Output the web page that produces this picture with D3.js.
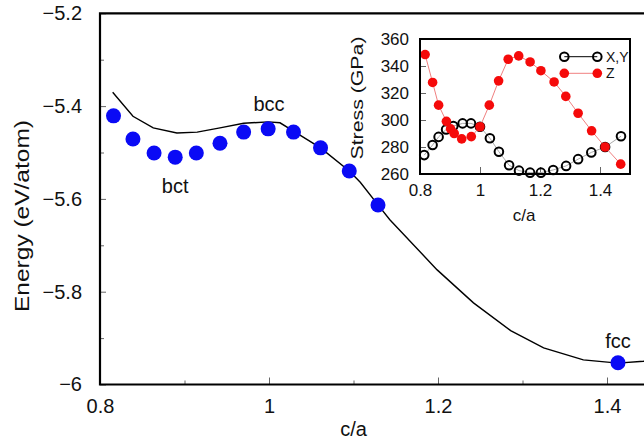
<!DOCTYPE html>
<html>
<head>
<meta charset="utf-8">
<script src="https://cdn.jsdelivr.net/npm/d3@7"></script>
<style>
  body { margin: 0; background: #fff; }
  svg { display: block; font-family: "Liberation Sans", Arial, sans-serif; }
</style>
</head>
<body>
<div id="chart"></div>
<script>
// main panel: energy vs c/a
var pointCa = [0.816, 0.839, 0.864, 0.889, 0.914, 0.942, 0.970, 0.999, 1.029, 1.061, 1.095, 1.129, 1.413];
var pointE = [-5.421, -5.471, -5.501, -5.510, -5.501, -5.480, -5.456, -5.449, -5.456, -5.490, -5.540, -5.613, -5.953];
var curveCa = [0.815, 0.839, 0.863, 0.891, 0.915, 0.942, 0.970, 0.999, 1.013, 1.029, 1.061, 1.095, 1.108, 1.129, 1.143, 1.199, 1.242, 1.286, 1.325, 1.372, 1.413, 1.443, 1.46];
var curveE = [-5.370, -5.422, -5.447, -5.458, -5.456, -5.447, -5.437, -5.434, -5.436, -5.454, -5.490, -5.540, -5.564, -5.613, -5.645, -5.753, -5.824, -5.884, -5.921, -5.947, -5.954, -5.950, -5.946];
var phaseNames = ["bct", "bcc", "fcc"];
var phaseCa = [0.889, 1.0, 1.413];
var phaseE = [-5.5, -5.434, -5.953];
var mainXTicks = [0.8, 1, 1.2, 1.4];
var mainYTicks = [-5.2, -5.4, -5.6, -5.8, -6];

// inset: stress vs c/a
var xyCa = [0.814, 0.842, 0.862, 0.887, 0.911, 0.942, 0.970, 1.000, 1.033, 1.063, 1.097, 1.130, 1.167, 1.203, 1.244, 1.287, 1.327, 1.371, 1.417, 1.470];
var xyStress = [274, 281.5, 287.5, 293, 295.5, 297.5, 297.5, 295, 286.5, 276.5, 266.5, 262.5, 261, 261, 263, 266, 271, 276, 280, 288];
var zCa = [0.817, 0.842, 0.862, 0.888, 0.902, 0.914, 0.939, 0.971, 1.000, 1.031, 1.062, 1.094, 1.129, 1.167, 1.203, 1.247, 1.286, 1.327, 1.372, 1.417, 1.469];
var zStress = [348.5, 327.8, 311, 299, 293.5, 290, 286, 287.7, 295, 311, 329, 345, 347.5, 343, 336.5, 328.2, 317.5, 305, 292, 280, 267.3];
var insetXTicks = [0.8, 1, 1.2, 1.4];
var insetYTicks = [260, 280, 300, 320, 340, 360];
var legendNames = ["X,Y", "Z"];

var width = 644, height = 443;
var font = "Liberation Sans, Arial, sans-serif";

var svg = d3.select("#chart").append("svg")
    .attr("width", width)
    .attr("height", height);

var x = d3.scaleLinear().domain([0.8, 1.5]).range([100, 691.5]);
var y = d3.scaleLinear().domain([-6, -5.2]).range([384.5, 13.3]);

// ticks (inward)
var minorX = svg.append("g")
    .attr("transform", "translate(0," + y(-6) + ")")
    .call(d3.axisBottom(x).tickValues([0.9, 1.1, 1.3]).tickSize(-4).tickFormat(""));
var minorY = svg.append("g")
    .attr("transform", "translate(" + x(0.8) + ",0)")
    .call(d3.axisLeft(y).tickValues([-5.3, -5.5, -5.7, -5.9]).tickSize(-4).tickFormat(""));

var xAxis = svg.append("g")
    .attr("transform", "translate(0," + y(-6) + ")")
    .call(d3.axisBottom(x).tickValues(mainXTicks).tickSize(-7).tickPadding(14).tickFormat(d3.format("")));
var yAxis = svg.append("g")
    .attr("transform", "translate(" + x(0.8) + ",0)")
    .call(d3.axisLeft(y).tickValues(mainYTicks).tickSize(-6).tickPadding(18).tickFormat(d3.format("")));

[minorX, minorY, xAxis, yAxis].forEach(function (g) {
    g.select(".domain").remove();
    g.selectAll(".tick line").attr("stroke", "#666").attr("stroke-width", 1);
    g.selectAll(".tick text")
        .attr("fill", "#111")
        .attr("font-family", font)
        .attr("font-size", 20);
});

// frame
svg.append("path")
    .attr("d", "M" + x(1.5) + "," + y(-5.2) + "H" + x(0.8) + "V" + y(-6) + "H" + x(1.5))
    .attr("fill", "none")
    .attr("stroke", "#000")
    .attr("stroke-width", 2.2);

// curve
var curveData = curveCa.map(function (d, i) { return [d, curveE[i]]; });
svg.append("path")
    .datum(curveData)
    .attr("d", d3.line().x(function (d) { return x(d[0]); }).y(function (d) { return y(d[1]); }))
    .attr("fill", "none")
    .attr("stroke", "#000")
    .attr("stroke-width", 1.4);

// points
svg.selectAll(".pt")
    .data(pointCa)
    .enter()
    .append("circle")
    .attr("class", "pt")
    .attr("cx", function (d) { return x(d); })
    .attr("cy", function (d, i) { return y(pointE[i]); })
    .attr("r", 7.5)
    .attr("fill", "#0a0af5");

// phase labels
var labelDy = [40.5, -11, -15];
svg.selectAll(".phase")
    .data(phaseNames)
    .enter()
    .append("text")
    .attr("x", function (d, i) { return x(phaseCa[i]); })
    .attr("y", function (d, i) { return y(phaseE[i]) + labelDy[i]; })
    .attr("text-anchor", "middle")
    .attr("font-family", font)
    .attr("font-size", 20)
    .attr("fill", "#111")
    .text(function (d) { return d; });

// axis titles
svg.append("text")
    .attr("x", x(1.1))
    .attr("y", 436)
    .attr("text-anchor", "middle")
    .attr("font-family", font)
    .attr("font-size", 20)
    .attr("fill", "#111")
    .text("c/a");

svg.append("text")
    .attr("transform", "translate(29,216) rotate(-90)")
    .attr("text-anchor", "middle")
    .attr("font-family", font)
    .attr("font-size", 20)
    .attr("textLength", 192)
    .attr("lengthAdjust", "spacingAndGlyphs")
    .attr("fill", "#111")
    .text("Energy (eV/atom)");

// ---------- inset ----------
var ix = d3.scaleLinear().domain([0.8, 1.5]).range([420, 630]);
var iy = d3.scaleLinear().domain([260, 360]).range([174, 39]);

var inset = svg.append("g");

inset.append("rect")
    .attr("x", ix(0.8))
    .attr("y", iy(360))
    .attr("width", ix(1.5) - ix(0.8))
    .attr("height", iy(260) - iy(360))
    .attr("fill", "#fff");

var ixAxis = inset.append("g")
    .attr("transform", "translate(0," + iy(260) + ")")
    .call(d3.axisBottom(ix).tickValues(insetXTicks).tickSize(-7).tickPadding(10).tickFormat(d3.format("")));
var iyAxis = inset.append("g")
    .attr("transform", "translate(" + ix(0.8) + ",0)")
    .call(d3.axisLeft(iy).tickValues(insetYTicks).tickSize(-6).tickPadding(11).tickFormat(d3.format("")));

[ixAxis, iyAxis].forEach(function (g) {
    g.select(".domain").remove();
    g.selectAll(".tick line").attr("stroke", "#666").attr("stroke-width", 1);
    g.selectAll(".tick text")
        .attr("fill", "#111")
        .attr("font-family", font)
        .attr("font-size", 17);
});

var lineXY = d3.line()
    .x(function (d, i) { return ix(xyCa[i]); })
    .y(function (d) { return iy(d); });
var lineZ = d3.line()
    .x(function (d, i) { return ix(zCa[i]); })
    .y(function (d) { return iy(d); });

inset.append("path")
    .datum(xyStress)
    .attr("d", lineXY)
    .attr("fill", "none")
    .attr("stroke", "#aaa")
    .attr("stroke-width", 1);

inset.selectAll(".xy")
    .data(xyStress)
    .enter()
    .append("circle")
    .attr("class", "xy")
    .attr("cx", function (d, i) { return ix(xyCa[i]); })
    .attr("cy", function (d) { return iy(d); })
    .attr("r", 4.3)
    .attr("fill", "none")
    .attr("stroke", "#000")
    .attr("stroke-width", 2);

inset.append("path")
    .datum(zStress)
    .attr("d", lineZ)
    .attr("fill", "none")
    .attr("stroke", "#f08080")
    .attr("stroke-width", 1);

inset.selectAll(".z")
    .data(zStress)
    .enter()
    .append("circle")
    .attr("class", "z")
    .attr("cx", function (d, i) { return ix(zCa[i]); })
    .attr("cy", function (d) { return iy(d); })
    .attr("r", 4.8)
    .attr("fill", "#f50a0a");

// legend
var legend = inset.append("g");
var legendY = [56.7, 73.3];
legendNames.forEach(function (name, i) {
    var row = legend.append("g").attr("transform", "translate(0," + legendY[i] + ")");
    row.append("line")
        .attr("x1", 564.3).attr("x2", 597.3)
        .attr("stroke", i === 0 ? "#000" : "#f08080")
        .attr("stroke-width", 1);
    [564.3, 597.3].forEach(function (cx) {
        row.append("circle")
            .attr("cx", cx)
            .attr("r", i === 0 ? 4.3 : 4.8)
            .attr("fill", i === 0 ? "none" : "#f50a0a")
            .attr("stroke", i === 0 ? "#000" : "none")
            .attr("stroke-width", 2);
    });
    row.append("text")
        .attr("x", 606)
        .attr("y", 5)
        .attr("font-family", font)
        .attr("font-size", 14)
        .attr("fill", "#111")
        .text(name);
});

// inset frame
inset.append("rect")
    .attr("x", ix(0.8))
    .attr("y", iy(360))
    .attr("width", ix(1.5) - ix(0.8))
    .attr("height", iy(260) - iy(360))
    .attr("fill", "none")
    .attr("stroke", "#000")
    .attr("stroke-width", 2);

inset.append("text")
    .attr("x", 524)
    .attr("y", 221)
    .attr("text-anchor", "middle")
    .attr("font-family", font)
    .attr("font-size", 17)
    .attr("fill", "#111")
    .text("c/a");

inset.append("text")
    .attr("transform", "translate(363,98) rotate(-90)")
    .attr("text-anchor", "middle")
    .attr("font-family", font)
    .attr("font-size", 17)
    .attr("textLength", 123)
    .attr("lengthAdjust", "spacingAndGlyphs")
    .attr("fill", "#111")
    .text("Stress (GPa)");
</script>
</body>
</html>
